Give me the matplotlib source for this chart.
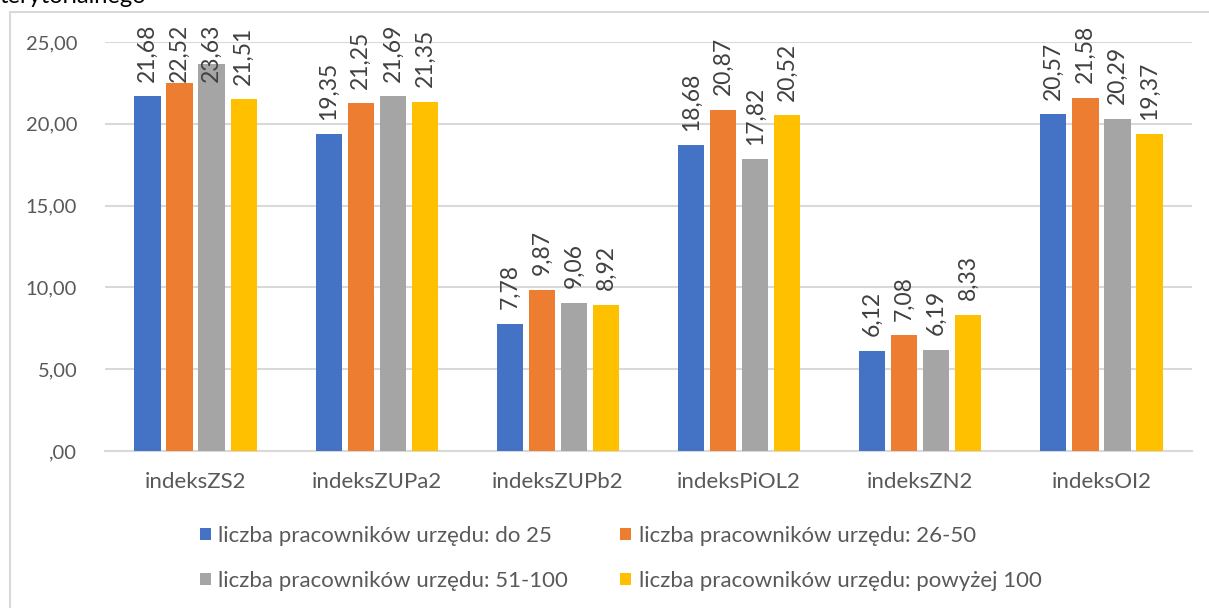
import numpy as np
import matplotlib
matplotlib.use("Agg")
import matplotlib.pyplot as plt
from matplotlib.patches import Rectangle

categories = ["indeksZS2", "indeksZUPa2", "indeksZUPb2", "indeksPiOL2", "indeksZN2", "indeksOI2"]
series_names = [
    "liczba pracowników urzędu: do 25",
    "liczba pracowników urzędu: 26-50",
    "liczba pracowników urzędu: 51-100",
    "liczba pracowników urzędu: powyżej 100",
]
do_25 = [21.68, 19.35, 7.78, 18.68, 6.12, 20.57]
od_26_do_50 = [22.52, 21.25, 9.87, 20.87, 7.08, 21.58]
od_51_do_100 = [23.63, 21.69, 9.06, 17.82, 6.19, 20.29]
powyzej_100 = [21.51, 21.35, 8.92, 20.52, 8.33, 19.37]
y_ticks = [0, 5, 10, 15, 20, 25]
y_tick_labels = [",00", "5,00", "10,00", "15,00", "20,00", "25,00"]

colors = ["#4472C4", "#ED7D31", "#A5A5A5", "#FFC000"]
plt.rcParams["font.family"] = ["Lato", "DejaVu Sans"]

fig = plt.figure(figsize=(12.09, 6.08), dpi=100)
ax = fig.add_axes([105 / 1209, 1 - 451 / 608, 1087 / 1209, 409 / 608])

x = np.arange(len(categories))
step = 0.177
width = 0.145
all_series = [do_25, od_26_do_50, od_51_do_100, powyzej_100]
handles = []
labels = []
for i, (vals, col, name) in enumerate(zip(all_series, colors, series_names)):
    pos = x + (i - 1.5) * step
    b = ax.bar(pos, vals, width, color=col, label=name, zorder=3)
    handles.append(b)
    for p, v in zip(pos, vals):
        t = ax.annotate(f"{v:.2f}".replace(".", ","), (p, v), xytext=(0, 10.5),
                        textcoords="offset points", rotation=90, ha="center", va="bottom",
                        fontsize=16.5, color="#404040", zorder=4)
        labels.append(t)

ax.set_xlim(-0.5, len(categories) - 0.5)
ax.set_ylim(0, 25)
ax.set_yticks(y_ticks)
ax.set_yticklabels(y_tick_labels)
ax.set_xticks(x)
ax.set_xticklabels(categories)
ax.tick_params(axis="y", length=0, pad=20, labelsize=14.5, labelcolor="#595959")
ax.tick_params(axis="x", length=0, pad=15, labelsize=16, labelcolor="#595959")
ax.grid(axis="y", color="#D9D9D9", lw=1.5, zorder=0)
for s in ["top", "right", "left"]:
    ax.spines[s].set_visible(False)
ax.spines["bottom"].set_color("#D9D9D9")
ax.spines["bottom"].set_linewidth(1.5)

# like Excel: keep data labels inside the chart area (top edge ~24 px)
fig.canvas.draw()
renderer = fig.canvas.get_renderer()
top_limit = fig.bbox.height - 24
for t in labels:
    bb = t.get_window_extent(renderer)
    if bb.y1 > top_limit:
        ox, oy = t.xyann
        t.xyann = (ox, oy - (bb.y1 - top_limit) * 72 / fig.dpi)

order = [0, 2, 1, 3]
fig.legend([handles[k] for k in order], [series_names[k] for k in order],
           ncol=2, loc="upper left", bbox_to_anchor=(200 / 1209, 1 - 526 / 608),
           frameon=False, fontsize=16, labelcolor="#595959", borderpad=0, borderaxespad=0,
           handlelength=0.5, handleheight=0.5, handletextpad=0.32,
           columnspacing=2.35, labelspacing=1.12)

# chart frame
fig.patches.append(Rectangle((10 / 1209, -0.1), 1.2, 1 - 12 / 608 + 0.1,
                             transform=fig.transFigure, fill=False,
                             edgecolor="#D9D9D9", lw=1.5))
fig.text(0.0, 1 - 3 / 608, "terytorialnego", fontsize=17, color="#000000",
         ha="left", va="baseline")

fig.savefig("out.png", dpi=100)
